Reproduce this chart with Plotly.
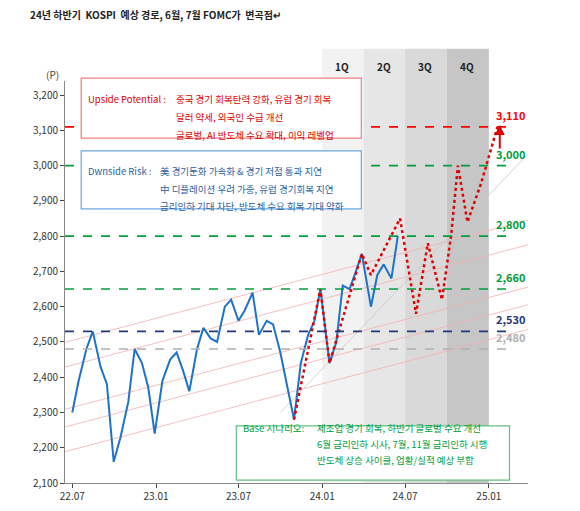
import plotly.graph_objects as go

kospi_dates = ["2022-07-01","2022-07-15","2022-08-01","2022-08-15","2022-09-01","2022-09-15","2022-09-30","2022-10-15","2022-11-01","2022-11-15","2022-12-01","2022-12-15","2022-12-29",
"2023-01-15","2023-02-01","2023-02-15","2023-03-01","2023-03-15","2023-04-01","2023-04-15","2023-05-01","2023-05-15","2023-06-01","2023-06-15","2023-07-01","2023-07-15","2023-08-01","2023-08-15","2023-09-01","2023-09-15","2023-10-01","2023-10-15","2023-10-31",
"2023-11-15","2023-12-01","2023-12-15","2023-12-28","2024-01-17","2024-02-01","2024-02-15","2024-03-01","2024-03-15","2024-03-28","2024-04-17","2024-05-01","2024-05-15","2024-06-01","2024-06-15"]
kospi_vals = [2300,2390,2480,2530,2430,2380,2160,2230,2330,2480,2440,2370,2240,
2390,2450,2470,2420,2360,2480,2540,2510,2500,2600,2620,2560,2590,2640,2520,2560,2550,2470,2380,2280,
2440,2520,2560,2650,2440,2500,2660,2650,2700,2750,2600,2690,2720,2680,2800]

fc_dates = ["2023-10-31","2023-12-28","2024-01-17","2024-03-28","2024-04-17","2024-06-20","2024-07-25","2024-08-20","2024-09-20","2024-10-10","2024-10-25","2024-11-15","2024-12-15","2025-01-20"]
fc_vals = [2280,2650,2440,2750,2690,2850,2580,2780,2620,2800,3000,2840,2950,3110]

levels = [3110,3000,2800,2650,2530,2480]
level_labels = ["3,110","3,000","2,800","2,660","2,530","2,480"]
level_colors = ["#ff0000","#00a03c","#00a03c","#00a03c","#1f3a7a","#b0b0b0"]

quarters = ["1Q","2Q","3Q","4Q"]
q_bounds = ["2024-01-01","2024-04-01","2024-07-01","2024-10-01","2025-01-01"]
q_fill = ["#f2f2f2","#e6e6e6","#d9d9d9","#c6c6c6"]

channel_x = ["2022-05-20","2025-04-10"]
channel_pink = [[2180,2540],[2250,2610],[2300,2660],[2420,2780],[2490,2850]]
channel_gray = [["2023-10-01","2025-04-10"],[2300,3050]]

boxes = [
    dict(x0=0.035, x1=0.64, y0=0.858, y1=1.007, border="#f08080", color="#e00000",
         label="Upside Potential :", lines=["중국 경기 회복탄력 강화, 유럽 경기 회복","달러 약세, 외국인 수급 개선","글로벌, AI 반도체 수요 확대, 이익 레벨업"], indent=0.2),
    dict(x0=0.035, x1=0.64, y0=0.682, y1=0.826, border="#6fa8dc", color="#2f5f9f",
         label="Dwnside Risk :", lines=["美 경기둔화 가속화 & 경기 저점 통과 지연","中 디플레이션 우려 가중, 유럽 경기회복 지연","금리인하 기대 차단, 반도체 수요 회복 기대 약화"], indent=0.165),
    dict(x0=0.37, x1=0.96, y0=0.007, y1=0.142, border="#60c080", color="#00a040",
         label="Base 시나리오:", lines=["제조업 경기 회복, 하반기 글로벌 수요 개선","6월 금리인하 시사, 7월, 11월 금리인하 시행","반도체 상승 사이클, 업황/실적 예상 부합"], indent=0.17),
]

fig = go.Figure()
for i in range(4):
    fig.add_shape(type="rect", xref="x", yref="paper", x0=q_bounds[i], x1=q_bounds[i+1], y0=0, y1=1.08,
                  fillcolor=q_fill[i], line_width=0, layer="below")
    fig.add_annotation(x=q_bounds[i], xshift=20, y=1.06, yref="paper", text="<b>"+quarters[i]+"</b>",
                       showarrow=False, font=dict(size=10, color="#222"))
for c in channel_pink:
    fig.add_trace(go.Scatter(x=channel_x, y=c, mode="lines", line=dict(color="#f4b0b0", width=0.8), hoverinfo="skip"))
fig.add_trace(go.Scatter(x=channel_gray[0], y=channel_gray[1], mode="lines", line=dict(color="#c8c8c8", width=0.8)))
for v, lab, col in zip(levels, level_labels, level_colors):
    fig.add_shape(type="line", xref="paper", x0=0, x1=0.96, y0=v, y1=v, line=dict(color=col, width=1.6, dash="dash"))
    fig.add_annotation(x=1.0, xref="paper", y=v, yshift=12, text="<b>"+lab+"</b>", showarrow=False,
                       font=dict(size=11, color=col), xanchor="right")
fig.add_trace(go.Scatter(x=kospi_dates, y=kospi_vals, mode="lines", line=dict(color="#1e73c8", width=2)))
fig.add_trace(go.Scatter(x=fc_dates, y=fc_vals, mode="lines", line=dict(color="#e00000", width=2.5, dash="dot")))
fig.add_annotation(x="2025-01-25", y=3115, ax=0, ay=25, showarrow=True, arrowhead=2, arrowcolor="#e00000", arrowwidth=2, text="")

for b in boxes:
    fig.add_shape(type="rect", xref="paper", yref="paper", x0=b["x0"], x1=b["x1"], y0=b["y0"], y1=b["y1"],
                  fillcolor="white", line=dict(color=b["border"], width=1.2), layer="above")
    h = (b["y1"] - b["y0"]) / 3.3
    fig.add_annotation(x=b["x0"] + 0.01, y=b["y1"] - h * 0.65, xref="paper", yref="paper", xanchor="left",
                       text=b["label"], showarrow=False, font=dict(size=9.5, color=b["color"]))
    for k, t in enumerate(b["lines"]):
        fig.add_annotation(x=b["x0"] + b["indent"], y=b["y1"] - h * (k + 0.65),
                           xref="paper", yref="paper", xanchor="left",
                           text=t, showarrow=False, font=dict(size=9.5, color=b["color"]))

fig.add_annotation(x=0, y=1.19, xref="paper", yref="paper", xanchor="left", showarrow=False,
    text="<b>24년 하반기  KOSPI  예상 경로, 6월, 7월 FOMC가  변곡점↵</b>", font=dict(size=10, color="#222"), xshift=-37)
fig.add_annotation(x=0, y=1.04, xref="paper", yref="paper", xanchor="right", showarrow=False, text="(P)",
    font=dict(size=10, color="#444"), xshift=-4)

fig.update_layout(width=580, height=511, showlegend=False, plot_bgcolor="white", paper_bgcolor="white",
    margin=dict(l=57, r=60, t=73, b=36), font=dict(family="Noto Sans CJK KR", size=10, color="#333"))
fig.update_xaxes(range=["2022-06-15","2025-03-28"], tickvals=["2022-07-01","2023-01-01","2023-07-01","2024-01-01","2024-07-01","2025-01-01"],
    ticktext=["22.07","23.01","23.07","24.01","24.07","25.01"], showgrid=False, showline=True, linecolor="#888", ticks="outside", ticklen=4)
fig.update_yaxes(range=[2100,3240], tickvals=list(range(2100,3201,100)), tickformat=",", showgrid=False,
    showline=True, linecolor="#888", ticks="outside", ticklen=4)
fig.write_html("out.html")
